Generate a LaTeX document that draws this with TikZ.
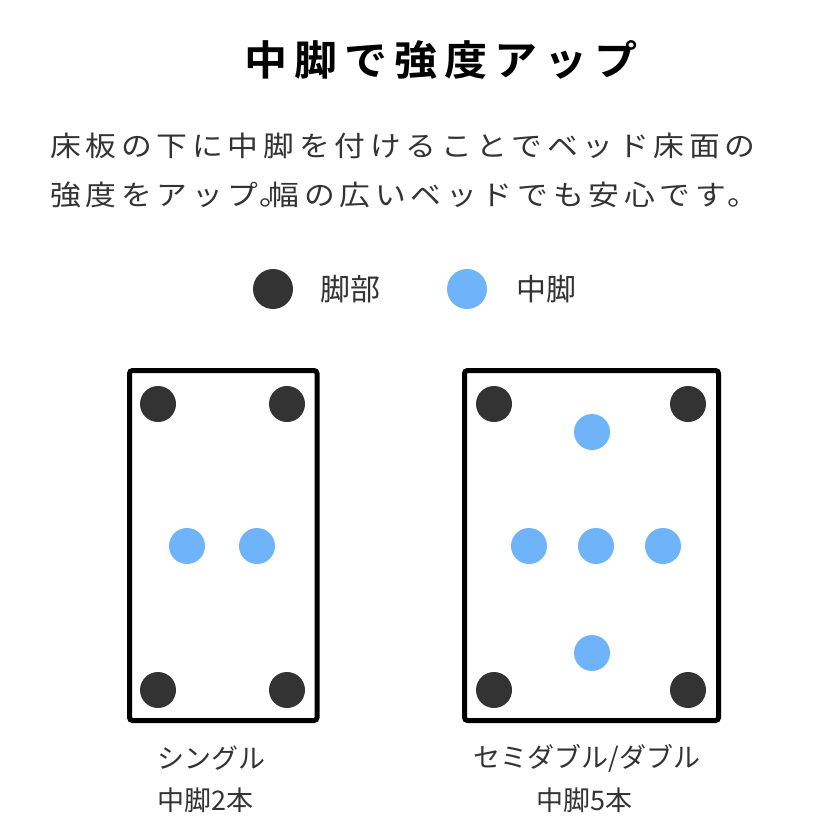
\documentclass[tikz,border=0pt]{standalone}
\usepackage{fontspec}
\setmainfont{Noto Sans CJK JP}
\newfontfamily\titlefont[FakeStretch=1.05,LetterSpace=17,BoldFont={* Bold}]{Noto Sans CJK JP}
\newfontfamily\introfont[FakeStretch=1.1,LetterSpace=17]{Noto Sans CJK JP}
\definecolor{legdark}{HTML}{333333}
\definecolor{legblue}{HTML}{6FB4F9}
\definecolor{txtgray}{HTML}{333333}
\tikzset{
  dotleg/.style={circle, inner sep=0pt, minimum size=36pt},
  footleg/.style={dotleg, fill=legdark},
  midleg/.style={dotleg, fill=legblue},
  bedframe/.style={draw=black, line width=5pt, rounded corners=3pt, inner sep=0pt},
  introtxt/.style={anchor=west, inner sep=0pt, text=txtgray, font=\introfont\fontsize{28pt}{34pt}\selectfont},
  keytxt/.style={anchor=west, inner sep=0pt, text=txtgray, font=\fontsize{30pt}{36pt}\selectfont},
  captxt/.style={inner sep=0pt, text=txtgray, font=\fontsize{27pt}{32pt}\selectfont}
}

\begin{document}
\begin{tikzpicture}[x=1pt,y=-1pt]
\useasboundingbox (0,0) rectangle (840,840);

% heading and text
\node[anchor=west, inner sep=0pt, text=black] (title) at (244,60)
{\titlefont\fontsize{41pt}{48pt}\selectfont\bfseries 中脚で強度アップ};
\node[introtxt] (introA) at (50,146) {床板の下に中脚を付けることでベッド床面の};
\node[introtxt] (introB) at (50,195) {強度をアップ\kern1pt。\kern-22pt 幅の広いベッドでも安心です。};

% legend
\node[footleg, minimum size=40pt] (keyfoot) at (273,289) {};
\node[keytxt] (keyfoottxt) at (320,289) {脚部};
\node[midleg, minimum size=40pt] (keymid) at (467,289) {};
\node[keytxt] (keymidtxt) at (516,289) {中脚};

% single bed
\node[bedframe, minimum width=187.5pt, minimum height=350pt] (single) at (223.25,545.5) {};
\node[footleg] (sfootA) at (158,404) {};
\node[footleg] (sfootB) at (287,404) {};
\node[footleg] (sfootC) at (158,690) {};
\node[footleg] (sfootD) at (287,690) {};
\node[midleg] (smidA) at (187,546) {};
\node[midleg] (smidB) at (257,546) {};

% semi double / double bed
\node[bedframe, minimum width=254pt, minimum height=350pt] (double) at (591.5,545.5) {};
\node[footleg] (dfootA) at (494,404) {};
\node[footleg] (dfootB) at (688,404) {};
\node[footleg] (dfootC) at (494,690) {};
\node[footleg] (dfootD) at (688,690) {};
\node[midleg] (dmidA) at (592,432) {};
\node[midleg] (dmidB) at (529,546) {};
\node[midleg] (dmidC) at (596,546) {};
\node[midleg] (dmidD) at (663,546) {};
\node[midleg] (dmidE) at (592,653) {};

% captions
\node[captxt, anchor=west] (singlename) at (157,758) {シングル};
\node[captxt, anchor=west] (singlecount) at (157,800) {中脚2本};
\node[captxt] (doublename) at (587,758) {セミダブル/ダブル};
\node[captxt] (doublecount) at (584,800) {中脚5本};

\end{tikzpicture}
\end{document}
